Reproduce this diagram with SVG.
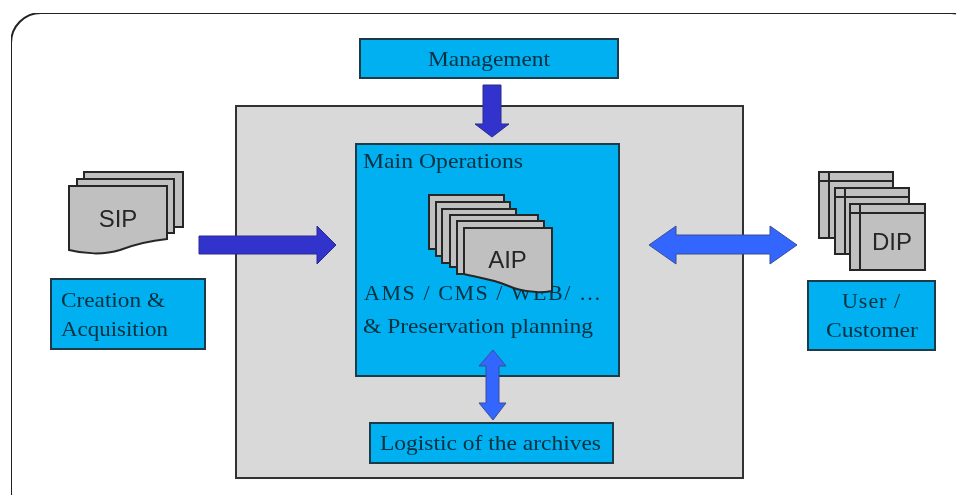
<svg xmlns="http://www.w3.org/2000/svg" width="956" height="495" viewBox="0 0 956 495">
  <defs>
    <filter id="soft" x="0" y="0" width="100%" height="100%" filterUnits="objectBoundingBox"><feGaussianBlur stdDeviation="0.45"/></filter>
    <path id="sheet" d="M0,0H88V63C72,66 58,64 42,57C28,51 16,50 0,46Z"/>
  </defs>
  <style>
    .box{fill:#00b0f0;stroke:#1f3a4a;stroke-width:2}
    .grey{fill:#d9d9d9;stroke:#333;stroke-width:2}
    .doc{fill:#c0c0c0;stroke:#262626;stroke-width:2}
    .dark{fill:#3333cc;stroke:#2a2a90;stroke-width:1}
    .bright{fill:#3366ff;stroke:#3a4f90;stroke-width:1}
    .t{font-family:"Liberation Serif",serif;font-size:22px;fill:#04303f}
    .s{font-family:"Liberation Sans",Arial,sans-serif;font-size:24px;fill:#262626}
    .m{text-anchor:middle}
  </style>
  <rect width="956" height="495" fill="#fff"/>
  <g filter="url(#soft)">
    <g id="frame"><rect x="11" y="13" width="970" height="510" rx="30" ry="30" fill="#fff" stroke="#222" stroke-width="2"/></g>
    <g id="archive"><rect class="grey" x="236" y="106" width="507" height="372"/></g>
    <g id="main-operations">
      <rect class="box" x="356" y="144" width="263" height="232"/>
      <text class="t" x="363" y="168" textLength="160" lengthAdjust="spacingAndGlyphs">Main Operations</text>
      <text class="t" x="364" y="300" textLength="237" lengthAdjust="spacing">AMS / CMS / WEB/ …</text>
      <text class="t" x="363" y="333" textLength="230" lengthAdjust="spacingAndGlyphs">&amp; Preservation planning</text>
    </g>
    <g id="aip">
      <rect class="doc" x="429" y="195" width="75" height="54"/>
      <rect class="doc" x="436" y="202" width="74" height="54"/>
      <rect class="doc" x="442" y="209" width="74" height="54"/>
      <rect class="doc" x="450" y="215" width="88" height="52"/>
      <rect class="doc" x="457" y="221" width="87" height="53"/>
      <use class="doc" href="#sheet" x="464" y="228"/>
      <text class="s" x="507.500" y="268" text-anchor="middle">AIP</text>
    </g>
    <g id="management"><rect class="box" x="360" y="39" width="258" height="39"/><text class="t m" x="489" y="66" textLength="122" lengthAdjust="spacingAndGlyphs">Management</text></g>
    <g id="logistic"><rect class="box" x="370" y="423" width="243" height="40"/><text class="t m" x="490.500" y="450" textLength="221" lengthAdjust="spacingAndGlyphs">Logistic of the archives</text></g>
    <g id="creation"><rect class="box" x="51" y="279" width="154" height="70"/><text class="t" x="61" y="307" textLength="104" lengthAdjust="spacingAndGlyphs">Creation &amp;</text><text class="t" x="61" y="336" textLength="107" lengthAdjust="spacingAndGlyphs">Acquisition</text></g>
    <g id="user"><rect class="box" x="808" y="281" width="127" height="69"/><text class="t m" x="871" y="308" textLength="58" lengthAdjust="spacing">User /</text><text class="t m" x="872" y="337" textLength="92" lengthAdjust="spacingAndGlyphs">Customer</text></g>
    <g id="sip">
      <rect class="doc" x="84" y="172" width="99" height="55"/>
      <rect class="doc" x="77" y="179" width="97" height="54"/>
      <path class="doc" d="M69,186H167V239C148,241 133,245 120,250C104,255 84,254 69,250Z"/>
      <text class="s" x="118" y="227" text-anchor="middle">SIP</text>
    </g>
    <g id="dip">
      <g class="doc"><rect x="819" y="172" width="74" height="66"/><path d="M819,181H893M829,172V238" fill="none"/></g>
      <g class="doc"><rect x="835" y="188" width="74" height="66"/><path d="M835,197H909M845,188V254" fill="none"/></g>
      <g class="doc"><rect x="850" y="204" width="75" height="66"/><path d="M850,213H925M860,204V270" fill="none"/></g>
      <text class="s" x="892" y="250" text-anchor="middle">DIP</text>
    </g>
    <g id="connectors">
      <polygon class="dark" points="483,85 501,85 501,124 509,124 492,137 475,124 483,124"/>
      <polygon class="dark" points="199,236 317,236 317,226 336,245 317,264 317,254 199,254"/>
      <polygon class="bright" points="649,245 676,226 676,235 770,235 770,226 797,245 770,264 770,254 676,254 676,264"/>
      <polygon class="bright" points="493,350 506,366 499,366 499,403 506,403 493,420 479,403 486,403 486,366 479,366"/>
    </g>
  </g>
</svg>
